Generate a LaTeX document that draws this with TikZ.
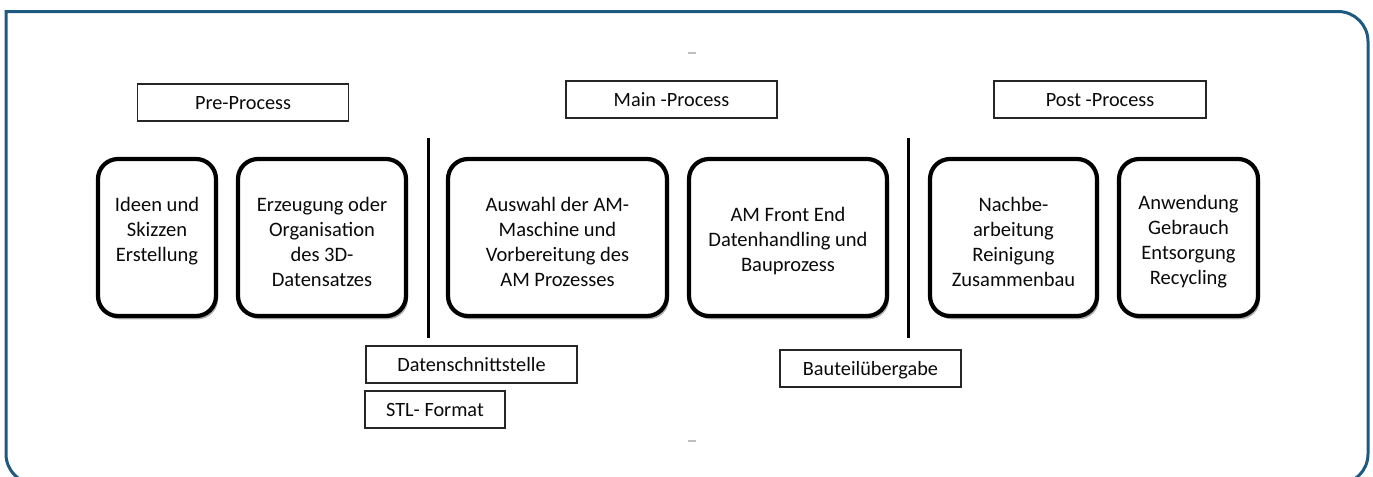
\documentclass[tikz,border=0pt]{standalone}
\usepackage{fontspec}
\setmainfont{Carlito}
\usetikzlibrary{shadows}
\newlength\pxu
\setlength\pxu{0.75pt}
\definecolor{framecol}{HTML}{1E5A80}
\definecolor{txt}{HTML}{0A0A0A}
\tikzset{
  stepbox/.style={draw=black, line width=4.2\pxu, rounded corners=20\pxu, fill=white,
    inner sep=0pt, minimum height=157\pxu,
    drop shadow={shadow xshift=1.5pt, shadow yshift=-2.5pt, fill=black, opacity=0.3}},
  steptext/.style={inner sep=0pt, align=center, text=txt, yshift=-3pt,
    font=\fontsize{15.4}{18.75}\selectfont},
  labelbox/.style={draw=black!85, line width=1.4\pxu, fill=white, inner sep=0pt,
    minimum height=37\pxu, text=txt, text height=11.9pt, text depth=1pt,
    font=\fontsize{15.2}{18.75}\selectfont},
  sepline/.style={draw=black, line width=3\pxu},
  tick/.style={draw=black!25, line width=1.5\pxu}
}
\begin{document}
\begin{tikzpicture}[x=0.75pt,y=-0.75pt]
\useasboundingbox (0,0) rectangle (1373,476);
\clip (0,0) rectangle (1373,476);
% frame
\draw[framecol, line width=3\pxu] (6,300) -- (6,11.5) -- (600,11.5)
  [rounded corners=22.5pt] -- (1368,11.5) -- (1368,484) -- (6,484) -- (6,300);
% small marks
\coordinate (t1a) at (688,53); \coordinate (t1b) at (696,53);
\coordinate (t2a) at (688,441); \coordinate (t2b) at (696,441);
\draw[tick] (t1a) -- (t1b);
\draw[tick] (t2a) -- (t2b);
% headers
\node[labelbox, minimum width=211\pxu] (pre) at (243,102.5) {Pre-Process};
\node[labelbox, minimum width=211\pxu] (main) at (671.5,99.5) {Main -Process};
\node[labelbox, minimum width=212\pxu] (post) at (1100,99.5) {Post -Process};
% step boxes
\node[stepbox, minimum width=118\pxu] (b1) at (157,237.5) {};
\node[stepbox, minimum width=168\pxu] (b2) at (322,237.5) {};
\node[stepbox, minimum width=219\pxu] (b3) at (557.5,237.5) {};
\node[stepbox, minimum width=198\pxu] (b4) at (788,237.5) {};
\node[stepbox, minimum width=167\pxu] (b5) at (1013.5,237.5) {};
\node[stepbox, minimum width=139\pxu] (b6) at (1188.5,237.5) {};
\node[steptext] (b1t) at (b1.center) {Ideen und\\Skizzen\\Erstellung\\\mbox{}};
\node[steptext] (b2t) at (b2.center) {Erzeugung oder\\Organisation\\des 3D-\\Datensatzes};
\node[steptext] (b3t) at (b3.center) {Auswahl der AM-\\Maschine und\\Vorbereitung des\\AM Prozesses};
\node[steptext] (b4t) at (b4.center) {AM Front End\\Datenhandling und\\Bauprozess};
\node[steptext] (b5t) at (b5.center) {Nachbe-\\arbeitung\\Reinigung\\Zusammenbau};
\node[steptext] (b6t) at (b6.center) {Anwendung\\Gebrauch\\Entsorgung\\Recycling};
% separators
\coordinate (s1t) at (428,138); \coordinate (s1b) at (428,338);
\coordinate (s2t) at (908,138); \coordinate (s2b) at (908,338);
\draw[sepline] (s1t) -- (s1b);
\draw[sepline] (s2t) -- (s2b);
% interface labels
\node[labelbox, minimum width=211\pxu] (ds) at (471.5,364.5) {Datenschnittstelle};
\node[labelbox, minimum width=140\pxu] (stl) at (435,409.5) {STL- Format};
\node[labelbox, minimum width=181\pxu] (bt) at (870.5,368.5) {Bauteilübergabe};
\end{tikzpicture}
\end{document}
